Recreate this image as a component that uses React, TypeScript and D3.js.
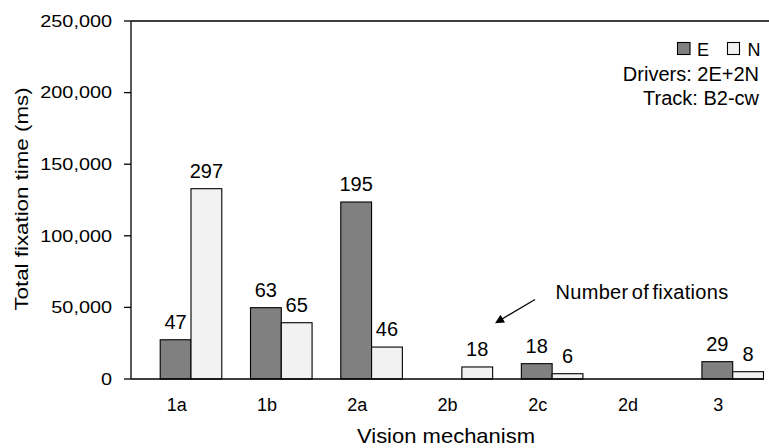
import React from "react";
import * as d3 from "d3";

const categories = ["1a", "1b", "2a", "2b", "2c", "2d", "3"];
const seriesNames = ["E", "N"];
const timeE = [27400, 49800, 123600, 0, 10700, 0, 12100];
const timeN = [132900, 39300, 22300, 8400, 3700, 0, 5100];
const countE: (number | null)[] = [47, 63, 195, null, 18, null, 29];
const countN: (number | null)[] = [297, 65, 46, 18, 6, null, 8];
const yTicks = [0, 50000, 100000, 150000, 200000, 250000];

const W = 769;
const H = 448;
const left = 131;
const right = 764;
const top = 21;
const bottom = 379;
const FONT = "'Liberation Sans', Arial, Helvetica, sans-serif";
const colors: Record<string, string> = { E: "#808080", N: "#f2f2f2" };

export default function App() {
  const x = d3.scaleBand<string>().domain(categories).range([131.5, 763.5]).padding(0);
  const bw = x.bandwidth();
  const xi = d3.scaleBand<string>().domain(seriesNames).range([bw * 0.318, bw]).padding(0);
  const y = d3.scaleLinear().domain([0, 250000]).range([bottom, top]);
  const fmt = d3.format(",");

  const bars: { cat: string; s: string; v: number; c: number | null }[] = [];
  categories.forEach((cat, i) => {
    bars.push({ cat, s: "E", v: timeE[i], c: countE[i] });
    bars.push({ cat, s: "N", v: timeN[i], c: countN[i] });
  });

  return (
    <svg width={W} height={H} style={{ position: "absolute", left: 0, top: 0, background: "#fff" }} fontFamily={FONT}>
      <rect x={0} y={0} width={W} height={H} fill="#fff" />
      {/* bars */}
      {bars
        .filter((b) => b.v > 0)
        .map((b, i) => (
          <rect
            key={"b" + i}
            x={(x(b.cat) as number) + (xi(b.s) as number)}
            y={y(b.v)}
            width={xi.bandwidth()}
            height={y(0) - y(b.v)}
            fill={colors[b.s]}
            stroke="#000"
            strokeWidth={1.1}
          />
        ))}
      {/* data labels */}
      {bars
        .filter((b) => b.c !== null)
        .map((b, i) => (
          <text
            key={"l" + i}
            x={(x(b.cat) as number) + (xi(b.s) as number) + xi.bandwidth() / 2}
            y={y(b.v) - 11}
            textAnchor="middle"
            fontSize={20}
            fill="#000"
          >
            {b.c}
          </text>
        ))}
      {/* axes */}
      <line x1={left} x2={left} y1={top} y2={bottom} stroke="#000" strokeWidth={1.3} />
      <line x1={left} x2={W} y1={top} y2={top} stroke="#000" strokeWidth={1.3} />
      <line x1={left} x2={right} y1={bottom} y2={bottom} stroke="#000" strokeWidth={1.3} />
      {yTicks.map((t) => (
        <g key={"t" + t}>
          <line x1={left - 7} x2={left} y1={y(t)} y2={y(t)} stroke="#000" strokeWidth={1.3} />
          <text
            transform={`translate(112,${y(t) + 5.8}) scale(1.24,1)`}
            textAnchor="end"
            fontSize={16}
            fill="#000"
          >
            {fmt(t)}
          </text>
        </g>
      ))}
      {categories.map((c) => (
        <text key={"x" + c} x={(x(c) as number) + bw / 2} y={410.5} textAnchor="middle" fontSize={18} fill="#000">
          {c}
        </text>
      ))}
      <text
        transform="translate(446,443) scale(1.1,1)"
        textAnchor="middle"
        fontSize={20}
        fill="#000"
      >
        Vision mechanism
      </text>
      <text
        transform={`translate(28,${(top + bottom) / 2 - 1}) rotate(-90) scale(1.24,1)`}
        textAnchor="middle"
        fontSize={18}
        fill="#000"
      >
        Total fixation time (ms)
      </text>
      {/* legend */}
      <rect x={677.5} y={42.5} width={12.5} height={12} fill={colors.E} stroke="#000" strokeWidth={1.1} />
      <text x={697} y={56} fontSize={18} fill="#000">E</text>
      <rect x={727.5} y={42.5} width={12} height={12} fill={colors.N} stroke="#000" strokeWidth={1.1} />
      <text x={747.5} y={56} fontSize={18} fill="#000">N</text>
      <text x={759} y={81} textAnchor="end" fontSize={20} fill="#000">Drivers: 2E+2N</text>
      <text x={759} y={105} textAnchor="end" fontSize={20} fill="#000">Track: B2-cw</text>
      {/* annotation */}
      <text x={555.5} y={299} fontSize={20} wordSpacing={-2.5} letterSpacing={0.3} fill="#000">
        Number of fixations
      </text>
      <line x1={535} y1={299.5} x2={502} y2={319} stroke="#000" strokeWidth={1.3} />
      <polygon points="495,323.3 500.5,314.8 505,322.5" fill="#000" />
    </svg>
  );
}
